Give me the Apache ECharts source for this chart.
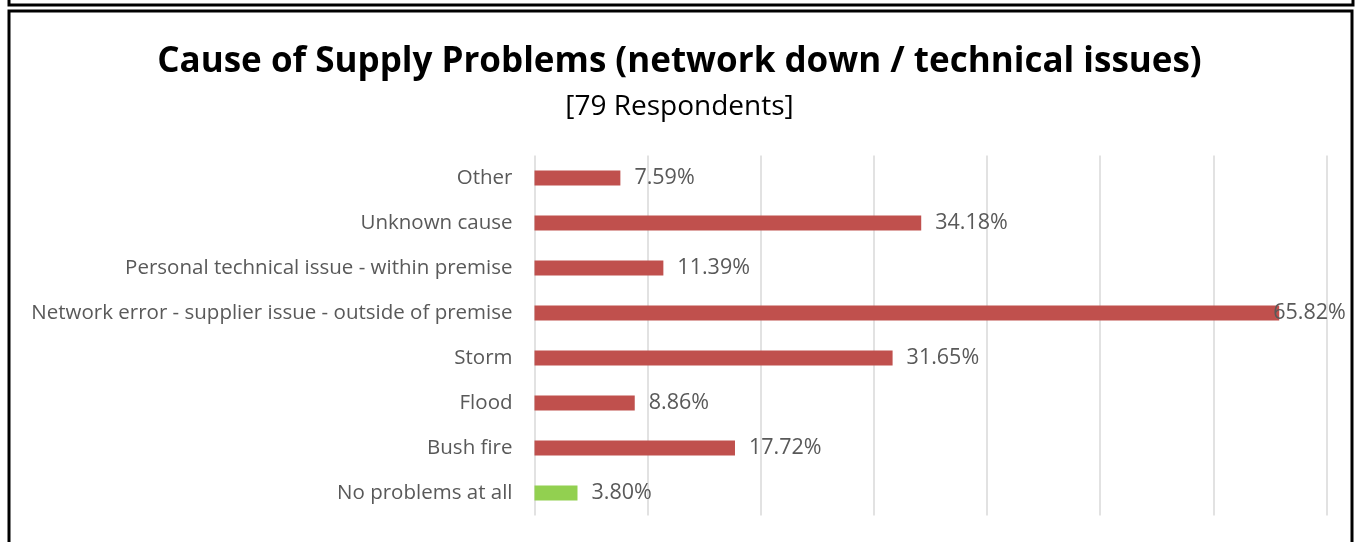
<!DOCTYPE html>
<html>
<head>
<meta charset="utf-8">
<title>Cause of Supply Problems</title>
<script src="https://cdn.jsdelivr.net/npm/echarts@6/dist/echarts.min.js"></script>
<style>
  html, body { margin: 0; padding: 0; background: #fff; }
  #chart { width: 1359px; height: 542px; }
</style>
</head>
<body>
<div id="chart"></div>
<script>
  // categories top to bottom, values in percent
  var categories = [
    "Other",
    "Unknown cause",
    "Personal technical issue - within premise",
    "Network error - supplier issue - outside of premise",
    "Storm",
    "Flood",
    "Bush fire",
    "No problems at all"
  ];
  var percents = [7.59, 34.18, 11.39, 65.82, 31.65, 8.86, 17.72, 3.80];
  var xTicks = [0, 10, 20, 30, 40, 50, 60, 70];

  var chart = echarts.init(document.getElementById("chart"));

  var barData = percents.map(function (v, i) {
    var item = {
      value: v,
      itemStyle: { color: categories[i] === "No problems at all" ? "#92D050" : "#C0504D" }
    };
    // excel pulls the longest label back over the bar end
    if (v > 60) {
      item.label = { distance: -6 };
    }
    return item;
  });

  chart.setOption({
    animation: false,
    title: [
      {
        text: "Cause of Supply Problems (network down / technical issues)",
        left: "center",
        top: 40,
        textStyle: {
          fontFamily: "Open Sans",
          fontWeight: "bold",
          fontSize: 35,
          color: "#000"
        }
      },
      {
        text: "[79 Respondents]",
        left: "center",
        top: 88,
        textStyle: {
          fontFamily: "Open Sans",
          fontWeight: "normal",
          fontSize: 28,
          color: "#000"
        }
      }
    ],
    graphic: [
      {
        type: "rect",
        shape: { x: 9, y: -10, width: 1344, height: 15 },
        style: { fill: null, stroke: "#000", lineWidth: 3 }
      },
      {
        type: "rect",
        shape: { x: 9, y: 11, width: 1343, height: 540 },
        style: { fill: null, stroke: "#000", lineWidth: 3 }
      }
    ],
    grid: {
      left: 534.5,
      right: 32.5,
      top: 155.5,
      height: 360,
      containLabel: false
    },
    xAxis: {
      type: "value",
      min: xTicks[0],
      max: xTicks[xTicks.length - 1],
      interval: 10,
      axisLabel: { show: false },
      axisTick: { show: false },
      axisLine: { show: false },
      splitLine: { lineStyle: { color: "#d9d9d9", width: 1.5 } }
    },
    yAxis: {
      type: "category",
      inverse: true,
      data: categories,
      axisLine: { show: false },
      axisTick: { show: false },
      axisLabel: {
        margin: 22,
        color: "#595959",
        fontFamily: "Open Sans",
        fontSize: 20.5
      }
    },
    series: [
      {
        type: "bar",
        data: barData,
        barWidth: 15,
        label: {
          show: true,
          position: "right",
          distance: 14,
          color: "#595959",
          fontFamily: "Open Sans",
          fontSize: 21.5,
          formatter: function (p) { return p.value.toFixed(2) + "%"; }
        }
      }
    ]
  });
</script>
</body>
</html>
